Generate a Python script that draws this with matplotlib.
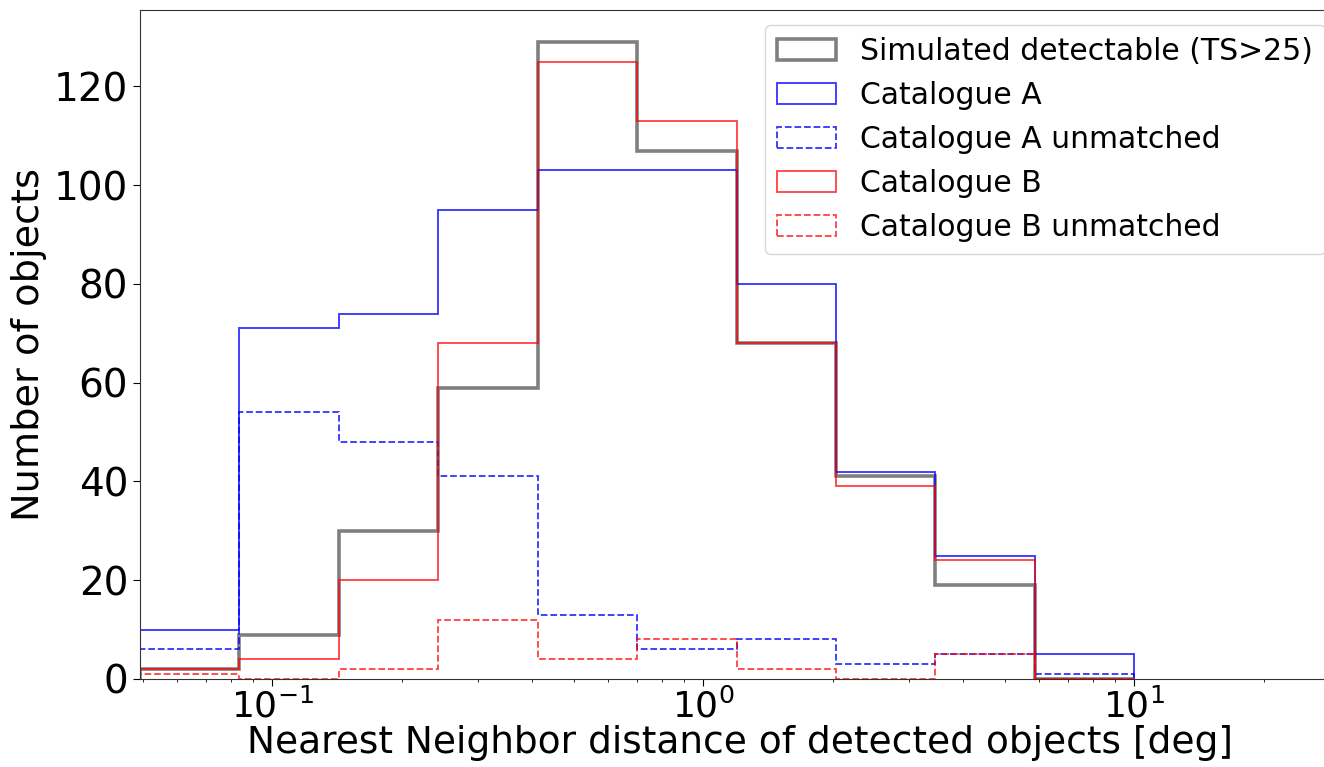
import numpy as np
import matplotlib
matplotlib.use("Agg")
import matplotlib.pyplot as plt

# Bin edges (log-spaced, 13 bins from 1e-2 to 1e1; only the visible part kept)
bin_edges = np.logspace(-2, 1, 14)[3:]

sim_detectable = [2, 9, 30, 59, 129, 107, 68, 41, 19, 0]
cat_a = [10, 71, 74, 95, 103, 103, 80, 42, 25, 5]
cat_a_unmatched = [6, 54, 48, 41, 13, 6, 8, 3, 5, 1]
cat_b = [2, 4, 20, 68, 125, 113, 68, 39, 24, 0]
cat_b_unmatched = [1, 0, 2, 12, 4, 8, 2, 0, 5, 0]

labels = ["Simulated detectable (TS>25)", "Catalogue A", "Catalogue A unmatched",
          "Catalogue B", "Catalogue B unmatched"]

plt.rcParams['font.family'] = ['DejaVu Sans']

W, H = 1324, 767
fig = plt.figure(figsize=(W / 100, H / 100), dpi=100)
ax = fig.add_axes([140 / W, 88 / H, 1200 / W, (679 - 10) / H])

centers = np.sqrt(bin_edges[:-1] * bin_edges[1:])

ax.hist(centers, bins=bin_edges, weights=sim_detectable, histtype='step',
        color='black', alpha=0.5, linewidth=2.6, label=labels[0])
ax.hist(centers, bins=bin_edges, weights=cat_a, histtype='step',
        color='blue', alpha=0.8, linewidth=1.3, label=labels[1])
ax.hist(centers, bins=bin_edges, weights=cat_a_unmatched, histtype='step',
        color='blue', alpha=0.8, linewidth=1.3, linestyle='--', label=labels[2])
ax.hist(centers, bins=bin_edges, weights=cat_b, histtype='step',
        color='red', alpha=0.75, linewidth=1.3, label=labels[3])
ax.hist(centers, bins=bin_edges, weights=cat_b_unmatched, histtype='step',
        color='red', alpha=0.75, linewidth=1.3, linestyle='--', label=labels[4])

ax.set_xscale('log')
ax.set_xlim(0.0493, 30)
ax.set_yticks([0, 20, 40, 60, 80, 100, 120])

ax.set_xlabel("Nearest Neighbor distance of detected objects [deg]", fontsize=27, labelpad=0)
ax.set_ylabel("Number of objects", fontsize=27.5, labelpad=5)
ax.tick_params(axis='y', which='major', labelsize=28, length=5)
ax.tick_params(axis='x', which='major', labelsize=26, length=5, pad=2)
for s in ax.spines.values():
    s.set_color('#333333')

leg = ax.legend(loc='upper right', fontsize=21.5, borderaxespad=0.5)

fig.savefig("out.png", dpi=100)
